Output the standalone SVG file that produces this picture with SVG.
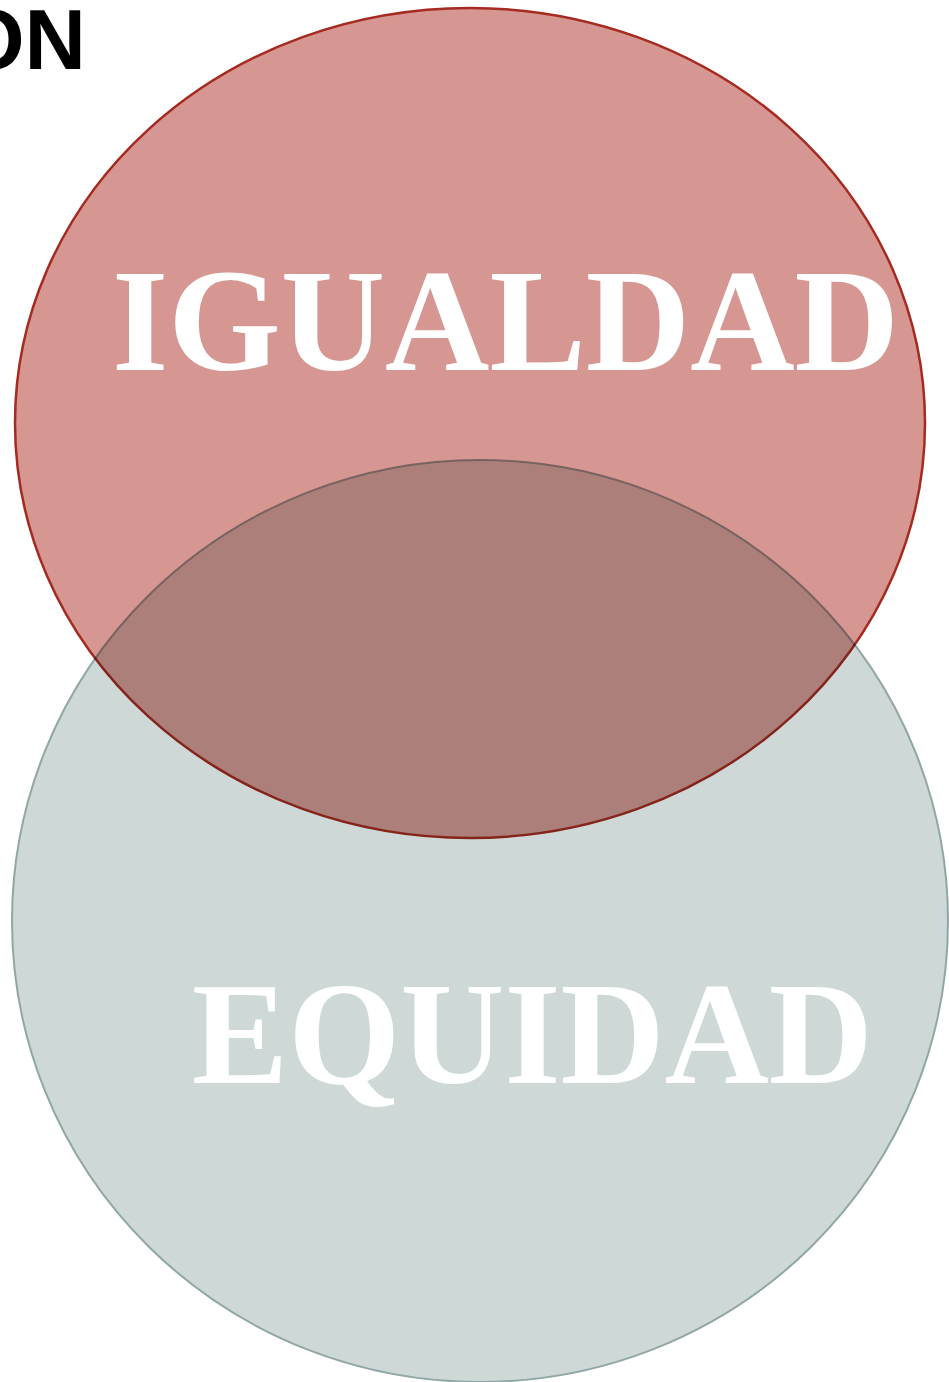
<svg xmlns="http://www.w3.org/2000/svg" width="949" height="1382" viewBox="0 0 949 1382">
<style>
.lbl{font-family:"Liberation Serif","Times New Roman",serif;font-weight:bold;font-size:146px;fill:#ffffff}
.ttl{font-family:"Liberation Sans",Arial,sans-serif;font-weight:bold;font-size:85px;fill:#000000}
</style>
<rect x="0" y="0" width="949" height="1382" fill="#ffffff"/>
<g id="title"><text class="ttl" x="86" y="69" text-anchor="end">ON</text></g>
<g id="equidad-circle">
<ellipse cx="480" cy="921" rx="468" ry="461" fill="#cdd8d7" stroke="#8fa7a5" stroke-width="2"/>
</g>
<g id="igualdad-circle" style="mix-blend-mode:multiply">
<ellipse cx="470" cy="423" rx="455" ry="415" fill="#d69692" stroke="#a52a1f" stroke-width="2.5"/>
</g>
<g id="labels">
<text class="lbl" x="112" y="370" textLength="787" lengthAdjust="spacingAndGlyphs">IGUALDAD</text>
<text class="lbl" x="192" y="1083" textLength="681" lengthAdjust="spacingAndGlyphs">EQUIDAD</text>
</g>
</svg>
